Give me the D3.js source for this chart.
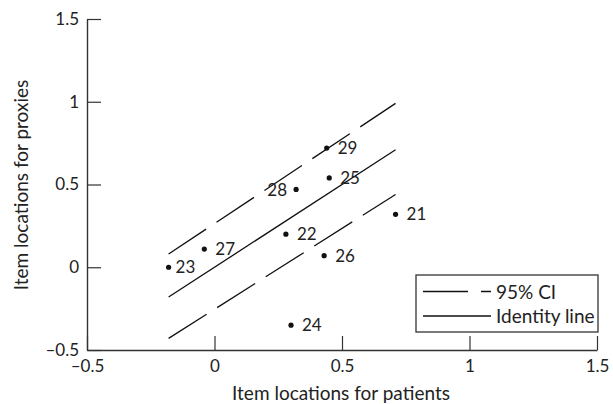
<!DOCTYPE html>
<html><head><meta charset="utf-8">
<script src="https://cdn.jsdelivr.net/npm/d3@7"></script>
<style>body{margin:0;background:#fff}svg{display:block}text{font-family:Lato,"DejaVu Sans",sans-serif;fill:#222}</style>
</head><body>
<svg id="c" width="613" height="404"></svg>
<script>
// Data
const itemIds   = ["21","22","23","24","25","26","27","28","29"];
const patientX  = [0.71, 0.28, -0.18, 0.30, 0.45, 0.43, -0.04, 0.32, 0.44];
const proxyY    = [0.32, 0.20, 0.00, -0.35, 0.54, 0.07, 0.11, 0.47, 0.72];
const identityLine = [[-0.18, -0.18], [0.71, 0.71]];
const ciUpper = [[-0.18, 0.08], [0.71, 0.99]];
const ciLower = [[-0.18, -0.43], [0.71, 0.44]];
const tickValues = [-0.5, 0, 0.5, 1, 1.5];
const tickLabels = ["–0.5", "0", "0.5", "1", "1.5"];
const legendLabels = ["95% CI", "Identity line"];
const xTitle = "Item locations for patients";
const yTitle = "Item locations for proxies";

const svg = d3.select("#c");
const x = d3.scaleLinear().domain([-0.5, 1.5]).range([87, 597]);
const y = d3.scaleLinear().domain([-0.5, 1.5]).range([350, 19]);
const fmt = v => tickLabels[tickValues.indexOf(v)];
const axisColor = "#333";

const gx = svg.append("g").attr("transform", "translate(0,350)")
  .call(d3.axisBottom(x).tickValues(tickValues).tickFormat(fmt).tickSizeInner(-14).tickSizeOuter(0).tickPadding(10));
const gy = svg.append("g").attr("transform", "translate(87,0)")
  .call(d3.axisLeft(y).tickValues(tickValues).tickFormat(fmt).tickSizeInner(-14).tickSizeOuter(0).tickPadding(8));
[gx, gy].forEach(g => {
  g.select(".domain").attr("stroke", axisColor).attr("stroke-width", 1.4);
  g.selectAll(".tick line").attr("stroke", axisColor).attr("stroke-width", 1.2);
  g.selectAll(".tick text").attr("font-size", 17).attr("font-family", "Lato").attr("fill", "#222");
});

// Titles
svg.append("text").attr("x", 341).attr("y", 400).attr("text-anchor", "middle")
  .attr("font-size", 19).text(xTitle);
svg.append("text").attr("transform", "translate(27.5,185) rotate(-90)").attr("text-anchor", "middle")
  .attr("font-size", 19).text(yTitle);

// Lines
const line = d3.line().x(d => x(d[0])).y(d => y(d[1]));
svg.append("path").attr("d", line(identityLine)).attr("fill", "none").attr("stroke", "#111").attr("stroke-width", 1.3);
[ciUpper, ciLower].forEach(l => svg.append("path").attr("d", line(l)).attr("fill", "none")
  .attr("stroke", "#111").attr("stroke-width", 1.3).attr("stroke-dasharray", "45,12.5"));

// Points
const pts = itemIds.map((id, i) => ({id, x: patientX[i], y: proxyY[i]}));
svg.append("g").selectAll("circle").data(pts).join("circle")
  .attr("cx", d => x(d.x)).attr("cy", d => y(d.y)).attr("r", 2.6).attr("fill", "#111");
const leftLabels = new Set(["28"]);
svg.append("g").selectAll("text").data(pts).join("text")
  .attr("x", d => leftLabels.has(d.id) ? x(d.x) - 9 : x(d.x) + (d.id === "23" ? 7 : 11))
  .attr("y", d => y(d.y)).attr("dy", "0.36em")
  .attr("text-anchor", d => leftLabels.has(d.id) ? "end" : "start")
  .attr("font-size", 17).text(d => d.id);

// Legend
const lg = svg.append("g");
lg.append("rect").attr("x", 416).attr("y", 275).attr("width", 182).attr("height", 57)
  .attr("fill", "#fff").attr("stroke", "#333").attr("stroke-width", 1.3);
lg.append("line").attr("x1", 423).attr("x2", 491).attr("y1", 291.5).attr("y2", 291.5)
  .attr("stroke", "#111").attr("stroke-width", 1.3).attr("stroke-dasharray", "45,13");
lg.append("line").attr("x1", 423).attr("x2", 491).attr("y1", 316).attr("y2", 316)
  .attr("stroke", "#111").attr("stroke-width", 1.3);
lg.append("text").attr("x", 496).attr("y", 298.5).attr("font-size", 19).text(legendLabels[0]);
lg.append("text").attr("x", 496).attr("y", 323.3).attr("font-size", 19).text(legendLabels[1]);
</script>
</body></html>
